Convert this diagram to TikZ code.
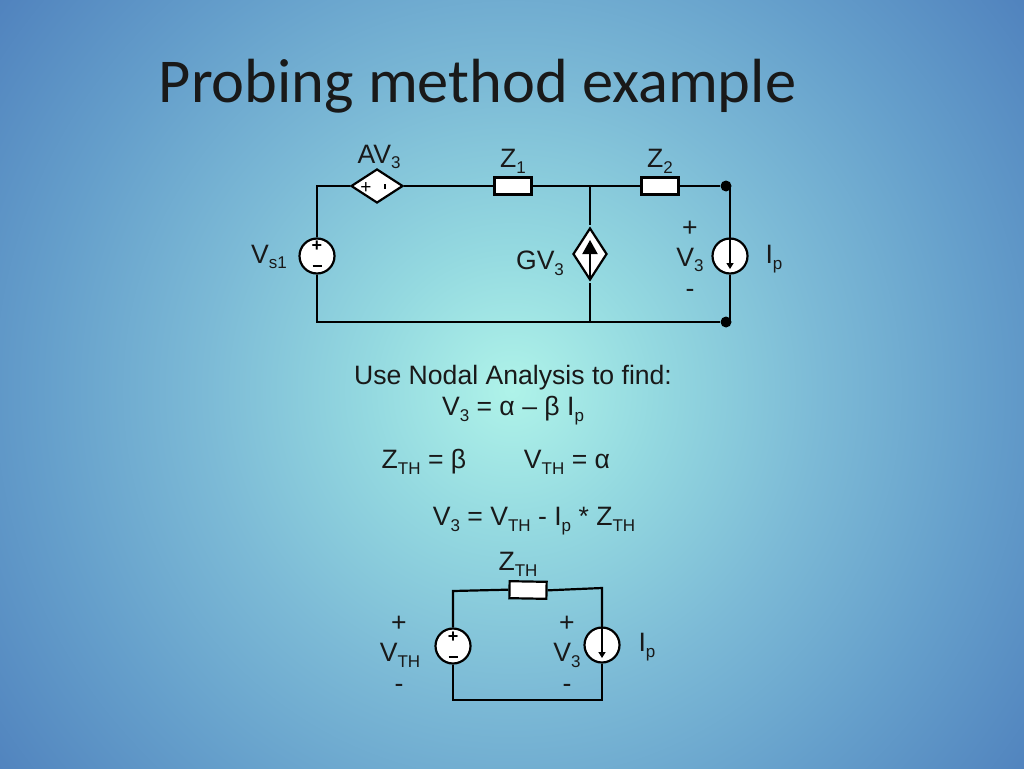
\documentclass[tikz,border=0pt]{standalone}
\usepackage{fontspec}
\setmainfont{Liberation Sans}
\newfontfamily\titlefont{Carlito}
\usetikzlibrary{arrows.meta,shapes.geometric}
\definecolor{bgA}{HTML}{AFF3E9}
\definecolor{bgB}{HTML}{94D9E0}
\definecolor{bgC}{HTML}{7CBAD6}
\definecolor{bgD}{HTML}{659FCB}
\definecolor{bgE}{HTML}{4F81BD}
\pgfdeclareradialshading{slidebg}{\pgfpoint{0bp}{0bp}}{
  color(0bp)=(bgA); color(7bp)=(bgB); color(15bp)=(bgC); color(23bp)=(bgD); color(32bp)=(bgE); color(100bp)=(bgE)}
\newcommand{\lsub}[1]{\raisebox{-0.22em}{\fontsize{17}{17}\selectfont #1}}
\tikzset{
  x=1pt,y=-1pt,
  lbl/.style={inner sep=0pt,font=\fontsize{26.6}{30}\selectfont,text=black!90,anchor=center},
  wire/.style={draw=black,line width=2.2pt},
  resbox/.style={draw=black,fill=white,line width=2.2pt,rectangle,minimum width=37pt,minimum height=17pt,inner sep=0pt},
  srccirc/.style={draw=black,fill=white,line width=2.2pt,circle,minimum size=35pt,inner sep=0pt},
  depdia/.style={draw=black,fill=white,line width=2.2pt,diamond,inner sep=0pt},
  termdot/.style={circle,fill=black,minimum size=11pt,inner sep=0pt},
  polar/.style={inner sep=0pt,font=\fontsize{18}{18}\selectfont\bfseries}
}
\begin{document}
\begin{tikzpicture}
\useasboundingbox (0,0) rectangle (1024,768);
\begin{scope}
\clip (0,0) rectangle (1024,768);
\shade[shading=slidebg] (0,-122) rectangle (1024,902);
\end{scope}
\node[inner sep=0pt,anchor=center,font=\titlefont\fontsize{62.4}{66}\selectfont,text=black!90] (title) at (477.5,86) {Probing method example};
% first circuit
\coordinate (tl) at (317,186);
\coordinate (bl) at (317,322);
\coordinate (junct) at (590,186);
\coordinate (jbot) at (590,322);
\coordinate (rtop) at (730,186);
\coordinate (rbot) at (730,322);
\node[depdia,minimum width=52pt,minimum height=34pt] (av) at (377,186) {};
\node[resbox] (z1) at (513,186) {};
\node[resbox] (z2) at (660,186) {};
\node[srccirc] (vs) at (317,256) {};
\node[srccirc] (ip) at (730,256) {};
\node[depdia,minimum width=34pt,minimum height=52pt] (gv) at (590,254) {};
\node[termdot] (dt) at (726,186) {};
\node[termdot] (db) at (726,322) {};
\coordinate (gvt) at (590,225);
\coordinate (gvb) at (590,283);
\draw[wire] (vs.north) -- (tl) -- (av.west);
\draw[wire] (av.east) -- (z1.west);
\draw[wire] (z1.east) -- (z2.west);
\draw[wire] (z2.east) -- (dt);
\draw[wire] (rtop) -- (ip.north);
\draw[wire] (ip.south) -- (rbot);
\draw[wire] (vs.south) -- (bl) -- (db);
\draw[wire] (junct) -- (gvt);
\draw[wire] (gvb) -- (jbot);
\node[inner sep=0pt,font=\fontsize{19}{19}\selectfont] (avp) at (366,188) {+};
\node[inner sep=0pt] (avm) at (385,186) {\rule{1.5pt}{5pt}};
\node[polar] (vsp) at (317,246) {+};
\node[polar] (vsm) at (317,266) {\rule{9pt}{2.2pt}};
\coordinate (gvtip) at (590,240);
\coordinate (gvend) at (590,278);
\draw[line width=2pt,-{Triangle[length=14pt,width=15pt]}] (gvend) -- (gvtip);
\coordinate (ipb) at (730,269);
\draw[line width=2pt,-{Triangle[length=6pt,width=7pt]}] (ip.north) -- (ipb);
\node[lbl] (lav) at (379,157) {AV\lsub{3}};
\node[lbl] (lz1) at (513,161) {Z\lsub{1}};
\node[lbl] (lz2) at (660,161) {Z\lsub{2}};
\node[lbl] (lvs) at (269,257) {V\lsub{s1}};
\node[lbl] (lgv) at (540,263) {GV\lsub{3}};
\node[lbl] (lp1) at (690,229) {+};
\node[lbl] (lv1) at (690,260) {V\lsub{3}};
\node[lbl] (lm1) at (690,293) {-};
\node[lbl] (lip) at (774,259) {I\lsub{p}};
% text
\node[lbl] (t1) at (513,378) {Use Nodal Analysis to find:};
\node[lbl] (t2) at (513,411) {V\lsub{3} = α – β I\lsub{p}};
\node[lbl] (t3) at (424,462) {Z\lsub{TH} = β};
\node[lbl] (t4) at (567,462) {V\lsub{TH} = α};
\node[lbl] (t5) at (534,521) {V\lsub{3} = V\lsub{TH} - I\lsub{p} * Z\lsub{TH}};
% second circuit
\coordinate (tl2) at (453,591);
\coordinate (bl2) at (453,700);
\coordinate (tr2) at (602,588);
\coordinate (br2) at (602,700);
\node[resbox,rotate=-1] (zth) at (528,590) {};
\node[srccirc] (vth) at (453,646) {};
\node[srccirc] (ip2) at (602,645) {};
\draw[wire] (vth.north) -- (tl2) -- (zth.west);
\draw[wire] (zth.east) -- (tr2) -- (ip2.north);
\draw[wire] (ip2.south) -- (br2) -- (bl2) -- (vth.south);
\node[polar] (vthp) at (453,637) {+};
\node[polar] (vthm) at (453,657) {\rule{9pt}{2.2pt}};
\coordinate (ip2b) at (602,658);
\draw[line width=2pt,-{Triangle[length=6pt,width=7pt]}] (ip2.north) -- (ip2b);
\node[lbl] (lzth) at (518,564) {Z\lsub{TH}};
\node[lbl] (lp2) at (399,624) {+};
\node[lbl] (lvth) at (400,655) {V\lsub{TH}};
\node[lbl] (lm2) at (399,688) {-};
\node[lbl] (lp3) at (567,624) {+};
\node[lbl] (lv3) at (567,655) {V\lsub{3}};
\node[lbl] (lm3) at (567,688) {-};
\node[lbl] (lip2) at (647,647) {I\lsub{p}};
\end{tikzpicture}
\end{document}
